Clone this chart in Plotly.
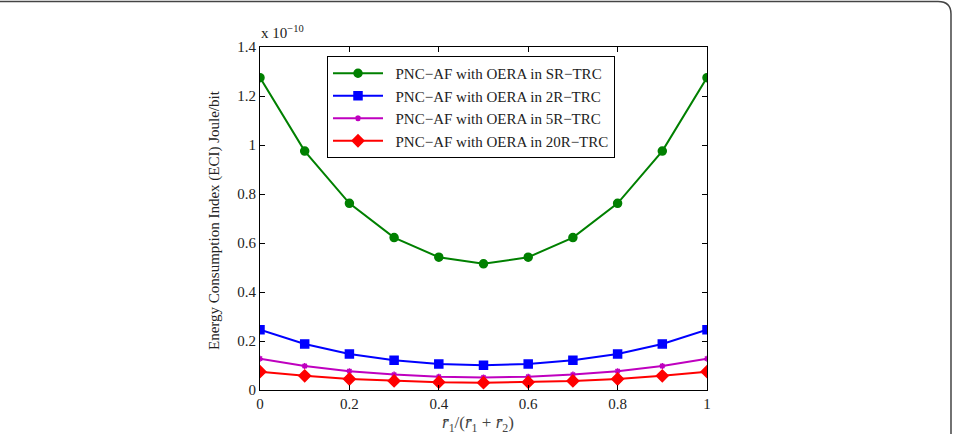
import plotly.graph_objects as go

x_vals = [0, 0.1, 0.2, 0.3, 0.4, 0.5, 0.6, 0.7, 0.8, 0.9, 1.0]
sr_trc = [1.275, 0.975, 0.762, 0.622, 0.542, 0.515, 0.542, 0.622, 0.762, 0.975, 1.275]
r2_trc = [0.246, 0.188, 0.147, 0.121, 0.106, 0.101, 0.106, 0.121, 0.147, 0.188, 0.246]
r5_trc = [0.128, 0.098, 0.077, 0.063, 0.054, 0.051, 0.054, 0.063, 0.077, 0.098, 0.128]
r20_trc = [0.075, 0.058, 0.045, 0.037, 0.032, 0.030, 0.032, 0.037, 0.045, 0.058, 0.075]
names = ["PNC\u2212AF with OERA in SR\u2212TRC", "PNC\u2212AF with OERA in 2R\u2212TRC",
         "PNC\u2212AF with OERA in 5R\u2212TRC", "PNC\u2212AF with OERA in 20R\u2212TRC"]
x_ticks = [0, 0.2, 0.4, 0.6, 0.8, 1]
y_ticks = [0, 0.2, 0.4, 0.6, 0.8, 1, 1.2, 1.4]

W, H = 953, 434
L, R, T, B = 260, 707, 47, 390
SERIF = "Liberation Serif, Times New Roman, serif"

fig = go.Figure()
series = [
    (sr_trc, "#008000", "circle", 8),
    (r2_trc, "#0000ff", "square", 8),
    (r5_trc, "#bf00bf", "asterisk", 5),
    (r20_trc, "#ff0000", "diamond", 9),
]
for (vals, col, sym, sz), nm in zip(series, names):
    fig.add_trace(go.Scatter(
        x=x_vals, y=vals, name="  " + nm, mode="lines+markers",
        line=dict(color=col, width=2),
        marker=dict(symbol=sym, size=sz, color=col, line=dict(color=col, width=1.5)),
    ))

font = dict(family=SERIF, size=15, color="#222")

axis_common = dict(showline=True, linecolor="black", linewidth=1, mirror="ticks",
                   ticks="inside", ticklen=5, tickcolor="black", showgrid=False,
                   zeroline=False, tickfont=font)

fig.update_layout(
    width=W, height=H,
    margin=dict(l=L, r=W - R, t=T, b=H - B),
    paper_bgcolor="white", plot_bgcolor="white",
    font=font,
    showlegend=True,
    legend=dict(x=(327 - L) / (R - L), y=(B - 56) / (B - T), xanchor="left", yanchor="top",
                bordercolor="black", borderwidth=1, bgcolor="white",
                font=dict(family=SERIF, size=15, color="#222"),
                tracegroupgap=0, itemwidth=50),
    xaxis=dict(range=[0, 1], tickvals=x_ticks, ticktext=[("%g" % v) for v in x_ticks], **axis_common),
    yaxis=dict(range=[0, 1.4], tickvals=y_ticks, ticktext=[("%g" % v) for v in y_ticks], **axis_common),
)

fig.add_annotation(xref="paper", yref="paper", x=(478 - L) / (R - L), y=(B - 424) / (B - T),
                   yanchor="middle", xanchor="center", showarrow=False,
                   text="<i>r\u0304</i><sub>1</sub>/(<i>r\u0304</i><sub>1</sub> + <i>r\u0304</i><sub>2</sub>)",
                   font=dict(family=SERIF, size=17, color="#444"))
fig.add_annotation(xref="paper", yref="paper", x=(215 - L) / (R - L), y=(B - 220) / (B - T),
                   textangle=-90, showarrow=False, xanchor="center", yanchor="middle",
                   text="Energy Consumption Index (ECI) Joule/bit",
                   font=dict(family=SERIF, size=15, color="#222"))
fig.add_annotation(xref="paper", yref="paper", x=(259 - L) / (R - L), y=(B - 32) / (B - T),
                   xanchor="left", yanchor="middle", showarrow=False,
                   text="x 10<sup>\u221210</sup>",
                   font=dict(family=SERIF, size=15, color="#222"))

def px(xp):
    return (xp - L) / (R - L)

def py(yp):
    return (B - yp) / (B - T)

path = "M %f,%f L %f,%f Q %f,%f %f,%f L %f,%f" % (
    px(-5), py(1.5), px(938), py(1.5), px(951), py(1.5), px(951), py(14), px(951), py(440))
fig.add_shape(type="path", xref="paper", yref="paper", path=path,
              line=dict(color="#444", width=1.5))

fig.write_html("out.html")
